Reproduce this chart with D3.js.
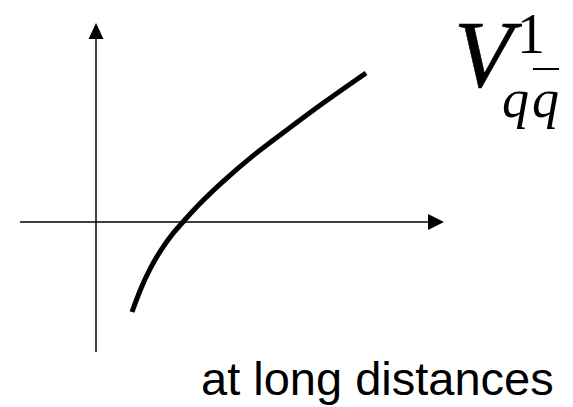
<!DOCTYPE html>
<html>
<head>
<meta charset="utf-8">
<script src="https://cdn.jsdelivr.net/npm/d3@7"></script>
<style>
  body { margin: 0; background: #fff; }
  svg { display: block; }
</style>
</head>
<body>
<svg id="chart" width="573" height="407"></svg>
<script>
// potential curve (arbitrary units, origin at axis crossing)
const rValues = [0.36, 0.44, 0.54, 0.66, 0.77, 0.87, 1.02, 1.26, 1.57, 1.91, 2.24, 2.70];
const vValues = [-0.90, -0.68, -0.46, -0.26, -0.11, 0.00, 0.17, 0.40, 0.67, 0.92, 1.17, 1.49];
const xExtent = [-0.76, 3.48];
const yExtent = [-1.30, 1.99];

const curve = rValues.map((r, i) => ({ r, v: vValues[i] }));

const svg = d3.select("#chart");

const x = d3.scaleLinear().domain(xExtent).range([20, 444]);
const y = d3.scaleLinear().domain(yExtent).range([352, 23]);

// axes
svg.append("line")
  .attr("x1", x(xExtent[0])).attr("x2", x(xExtent[1]) - 10)
  .attr("y1", y(0)).attr("y2", y(0))
  .attr("stroke", "#000").attr("stroke-width", 1.5);

svg.append("line")
  .attr("x1", x(0)).attr("x2", x(0))
  .attr("y1", y(yExtent[0])).attr("y2", y(yExtent[1]) + 10)
  .attr("stroke", "#000").attr("stroke-width", 1.5);

// arrowheads
const hx = x(xExtent[1]), hy = y(0);
svg.append("path")
  .attr("d", `M${hx},${hy} L${hx - 16},${hy - 8} L${hx - 16},${hy + 8} Z`)
  .attr("fill", "#000");

const vx = x(0), vy = y(yExtent[1]);
svg.append("path")
  .attr("d", `M${vx},${vy} L${vx - 7.5},${vy + 16} L${vx + 7.5},${vy + 16} Z`)
  .attr("fill", "#000");

// curve
const line = d3.line()
  .x(d => x(d.r))
  .y(d => y(d.v))
  .curve(d3.curveBasis);

svg.append("path")
  .datum(curve)
  .attr("d", line)
  .attr("fill", "none")
  .attr("stroke", "#000")
  .attr("stroke-width", 5);

// label V^1_{q qbar}
const serif = "'Liberation Serif', 'Times New Roman', serif";
svg.append("text")
  .attr("x", 454).attr("y", 87)
  .style("font-family", serif)
  .style("font-style", "italic")
  .style("font-size", "96px")
  .style("stroke", "#000").style("stroke-width", 0.6)
  .text("V");

svg.append("text")
  .attr("x", 517).attr("y", 53)
  .style("font-family", serif)
  .style("font-size", "56px")
  .text("1");

svg.append("text")
  .attr("x", 502).attr("y", 117)
  .style("font-family", serif)
  .style("font-style", "italic")
  .style("font-size", "54px")
  .text("q");

svg.append("text")
  .attr("x", 532).attr("y", 117)
  .style("font-family", serif)
  .style("font-style", "italic")
  .style("font-size", "54px")
  .text("q");

svg.append("line")
  .attr("x1", 533).attr("x2", 559)
  .attr("y1", 69).attr("y2", 69)
  .attr("stroke", "#000").attr("stroke-width", 2);

svg.append("text")
  .attr("x", 201).attr("y", 395)
  .style("font-family", "'Liberation Sans', Arial, sans-serif")
  .style("font-size", "47px")
  .text("at long distances");
</script>
</body>
</html>
